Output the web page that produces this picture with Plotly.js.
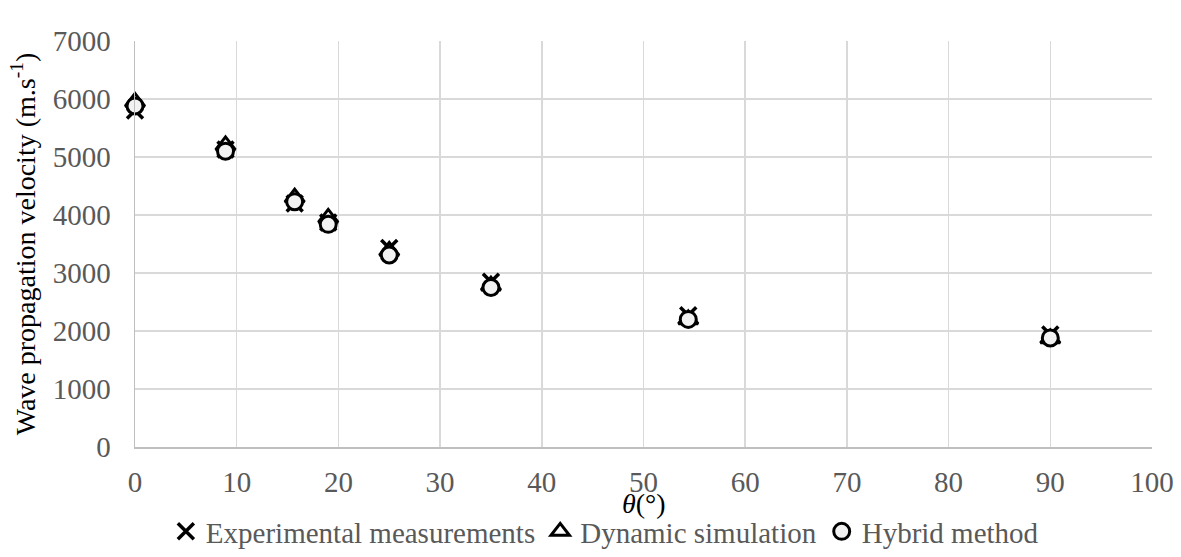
<!DOCTYPE html>
<html>
<head>
<meta charset="utf-8">
<script src="https://cdn.plot.ly/plotly-3.0.1.min.js"></script>
<style>html,body{margin:0;padding:0;background:#fff;}#chart{width:1181px;height:557px;}</style>
</head>
<body>
<div id="chart"></div>
<script>
const theta = [0, 8.9, 15.7, 19, 25, 35, 54.4, 90];
const experimental = [5800, 5130, 4200, 3870, 3430, 2850, 2270, 1940];
const dynamic = [5950, 5200, 4300, 3950, 3380, 2780, 2200, 1870];
const hybrid = [5880, 5100, 4230, 3840, 3310, 2750, 2200, 1880];
const seriesNames = ['Experimental measurements', 'Dynamic simulation', 'Hybrid method'];
const xTitle = '<i>θ</i>(°)';
const yTitle = 'Wave propagation velocity (m.s<sup>-1</sup>)';

const traces = [
  {x: theta, y: experimental, name: seriesNames[0], mode: 'markers', type: 'scatter', cliponaxis: false,
   marker: {symbol: 'x-thin-open', size: 16, color: '#000', line: {color: '#000', width: 3.5}}},
  {x: theta, y: dynamic, name: seriesNames[1], mode: 'markers', type: 'scatter', cliponaxis: false,
   marker: {symbol: 'triangle-up-open', size: 17, color: '#000', line: {color: '#000', width: 3}}},
  {x: theta, y: hybrid, name: seriesNames[2], mode: 'markers', type: 'scatter', cliponaxis: false,
   marker: {symbol: 'circle', size: 16, color: '#f2f2f2', line: {color: '#000', width: 3}}}
];

const font = 'Liberation Serif';
const layout = {
  width: 1181, height: 557,
  margin: {l: 135, r: 29, t: 41, b: 110, autoexpand: false},
  paper_bgcolor: '#fff', plot_bgcolor: '#fff',
  font: {family: font, color: '#595959', size: 29},
  showlegend: true,
  legend: {orientation: 'h', x: 0.462, xanchor: 'center', yref: 'container', y: 0, yanchor: 'bottom',
           font: {family: font, size: 29, color: '#595959'}, itemwidth: 20, tracegroupgap: 0},
  xaxis: {range: [0, 100], dtick: 10, showgrid: true, gridcolor: '#d9d9d9', gridwidth: 1.5,
          zeroline: false, showline: true, linecolor: '#bfbfbf', linewidth: 1.5,
          ticks: '', ticklabelstandoff: 9, tickfont: {family: font, size: 29, color: '#595959'}},
  yaxis: {range: [0, 7000], dtick: 1000, showgrid: true, gridcolor: '#d9d9d9', gridwidth: 1.5,
          zeroline: false, showline: true, linecolor: '#bfbfbf', linewidth: 1.5,
          ticks: '', ticklabelstandoff: 17, tickfont: {family: font, size: 29, color: '#595959'},
          title: {text: yTitle, standoff: 9, font: {family: font, size: 28, color: '#000'}}},
  annotations: [{text: xTitle, xref: 'paper', yref: 'paper', x: 0.5, y: 0, xanchor: 'center',
                 yanchor: 'top', yshift: -39, showarrow: false,
                 font: {family: font, size: 28, color: '#000'}}]
};

Plotly.newPlot('chart', traces, layout, {displayModeBar: false, staticPlot: true});
</script>
</body>
</html>
